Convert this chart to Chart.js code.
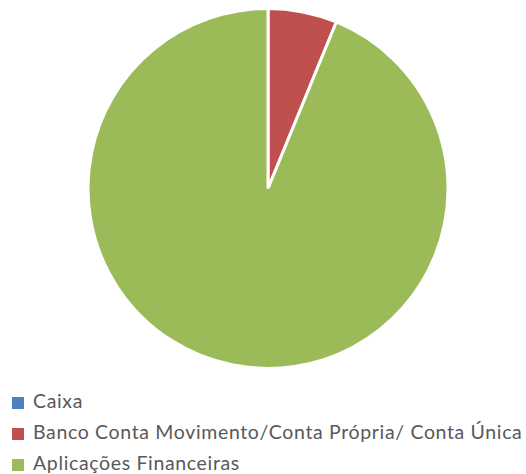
<!DOCTYPE html>
<html>
<head>
<meta charset="utf-8">
<script src="https://cdn.jsdelivr.net/npm/chart.js@4/dist/chart.umd.min.js"></script>
<style>
  body { margin: 0; background: #fff; }
  #wrap { position: relative; width: 526px; height: 474px; }
  #chart-box { position: absolute; left: 0; top: 0; width: 526px; height: 378px; }
  #legend { position: absolute; left: 12px; top: 385px; margin: 0; padding: 0; list-style: none;
            font-family: Lato, "Open Sans", sans-serif; font-size: 19.5px; letter-spacing: 0.65px; color: #595959; }
  #legend li { height: 31px; line-height: 31px; white-space: nowrap; }
  #legend span { display: inline-block; width: 12px; height: 12px; margin-right: 9px; vertical-align: -1px; }
</style>
</head>
<body>
<div id="wrap">
  <div id="chart-box"><canvas id="pie"></canvas></div>
  <ul id="legend"></ul>
</div>
<script>
const labels = ['Caixa', 'Banco Conta Movimento/Conta Própria/ Conta Única', 'Aplicações Financeiras'];
const values = [0, 6.2, 93.8];
const colors = ['#4F81BD', '#C0504D', '#9BBB59'];

const chart = new Chart(document.getElementById('pie'), {
    type: 'pie',
    data: {
        labels: labels,
        datasets: [{
            data: values,
            backgroundColor: colors,
            borderColor: '#ffffff',
            borderWidth: 3
        }]
    },
    options: {
        responsive: true,
        maintainAspectRatio: false,
        animation: false,
        layout: { padding: { top: 7, bottom: 8, left: 10, right: 0 } },
        plugins: {
            legend: { display: false },
            tooltip: { enabled: false }
        }
    }
});

// legend like the original: one item per line
const legend = document.getElementById('legend');
labels.forEach((name, i) => {
    const li = document.createElement('li');
    li.innerHTML = `<span style="background:${colors[i]}"></span>${name}`;
    legend.appendChild(li);
});
</script>
</body>
</html>
